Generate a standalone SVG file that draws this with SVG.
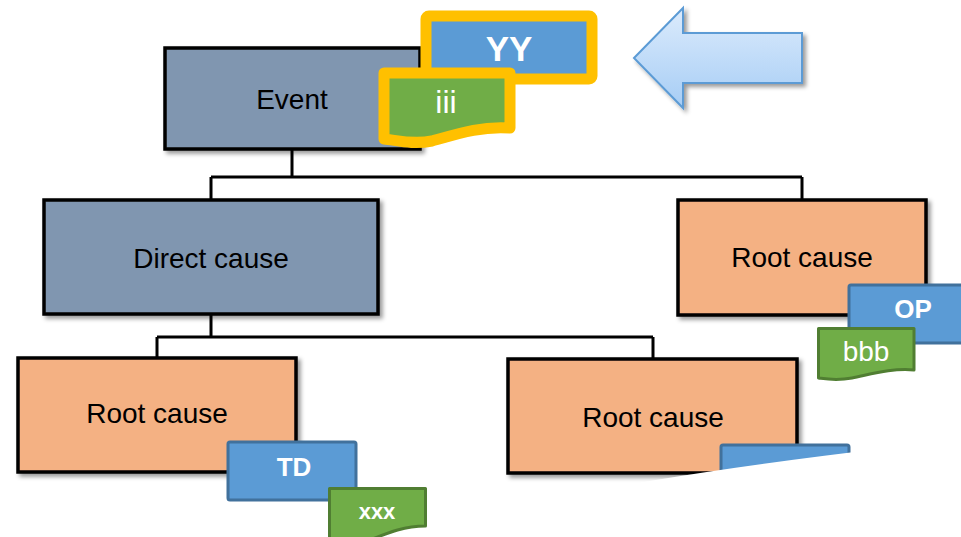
<svg xmlns="http://www.w3.org/2000/svg" width="961" height="537" viewBox="0 0 961 537">
  <defs>
    <filter id="shadow" x="-10%" y="-10%" width="130%" height="140%">
      <feDropShadow dx="3" dy="3" stdDeviation="2" flood-color="#000" flood-opacity="0.4"/>
    </filter>
    <linearGradient id="arrowFill" x1="0" y1="0" x2="0" y2="1">
      <stop offset="0" stop-color="#dcebfc"/>
      <stop offset="1" stop-color="#a6cdf5"/>
    </linearGradient>
    <style>
      .box { stroke: #000; stroke-width: 3.5; filter: url(#shadow); }
      .slate { fill: #8096b0; }
      .peach { fill: #f4b183; }
      .label { font-family: "Liberation Sans", Arial, sans-serif; font-size: 28px; fill: #000; text-anchor: middle; }
      .wire { fill: none; stroke: #000; stroke-width: 3; }
      .tag { fill: #5b9bd5; stroke: #41719c; stroke-width: 3; }
      .doc { fill: #70ad47; stroke: #507e32; stroke-width: 3; stroke-linejoin: round; }
      .hl { stroke: #ffc000; stroke-width: 11; stroke-linejoin: round; }
      .tagtxt { font-family: "Liberation Sans", Arial, sans-serif; fill: #fff; text-anchor: middle; }
    </style>
  </defs>

  <!-- connectors -->
  <g id="connectors">
    <path class="wire" d="M292,150 V177 M211,177 H802 M211,177 V200 M802,177 V200"/>
    <path class="wire" d="M211,314 V337 M157,337 H653 M157,337 V358 M653,337 V359"/>
  </g>

  <g id="event">
    <rect class="box slate" x="165" y="48" width="255" height="101"/>
    <text class="label" x="292" y="109" font-size="27">Event</text>
  </g>

  <g id="direct-cause">
    <rect class="box slate" x="44" y="200" width="334" height="114"/>
    <text class="label" x="211" y="268">Direct cause</text>
  </g>

  <g id="root-cause-right">
    <rect class="box peach" x="678" y="200" width="248" height="115"/>
    <text class="label" x="802" y="267">Root cause</text>
  </g>

  <g id="root-cause-left">
    <rect class="box peach" x="18" y="358" width="278" height="114"/>
    <text class="label" x="157" y="423">Root cause</text>
  </g>

  <g id="root-cause-middle">
    <rect class="box peach" x="508" y="359" width="289" height="114"/>
    <text class="label" x="653" y="427">Root cause</text>
  </g>

  <!-- highlighted tags on the event -->
  <g id="tag-yy">
    <rect class="hl" x="426" y="16" width="166" height="63" rx="3" fill="#5b9bd5"/>
    <text class="tagtxt" x="509" y="61" font-size="35" font-weight="bold">YY</text>
  </g>
  <g id="tag-iii">
    <path class="hl" fill="#70ad47" d="M384,73 H510 V128 C482,126 460,133 432,141 C412,145 396,140 384,139 Z"/>
    <text class="tagtxt" x="446" y="113" font-size="32">iii</text>
  </g>

  <!-- pointer arrow -->
  <g id="pointer" filter="url(#shadow)">
    <path d="M634,58 L683,8 V33 H802 V83 H683 V108 Z" fill="url(#arrowFill)" stroke="#5b9bd5" stroke-width="2" stroke-linejoin="miter"/>
  </g>

  <!-- tags on root causes -->
  <g id="tag-op">
    <rect class="tag" x="849" y="285" width="120" height="58" rx="2"/>
    <text class="tagtxt" x="913" y="318" font-size="26" font-weight="bold">OP</text>
  </g>
  <g id="tag-bbb">
    <path class="doc" d="M818.5,328.5 H914 V370 C892,368 872,374 852,378 C836,381 826,379 818.5,378 Z"/>
    <text class="tagtxt" x="866" y="361" font-size="28">bbb</text>
  </g>

  <g id="tag-td">
    <rect class="tag" x="228" y="442" width="128" height="58" rx="2"/>
    <text class="tagtxt" x="294" y="476" font-size="26" font-weight="bold">TD</text>
  </g>
  <g id="tag-xxx">
    <path class="doc" d="M329.5,488.5 H425.5 V526 C405,526 390,532 370,540 C355,546 340,545 329.5,545 Z"/>
    <text class="tagtxt" x="377" y="519" font-size="22" font-weight="bold">xxx</text>
  </g>

  <g id="tag-middle">
    <rect class="tag" x="721" y="445" width="128" height="58" rx="2"/>
  </g>

  <!-- torn-off lower right corner -->
  <path d="M560,497 Q700,470 880,449 L961,449 L961,537 L560,537 Z" fill="#fff"/>
</svg>
